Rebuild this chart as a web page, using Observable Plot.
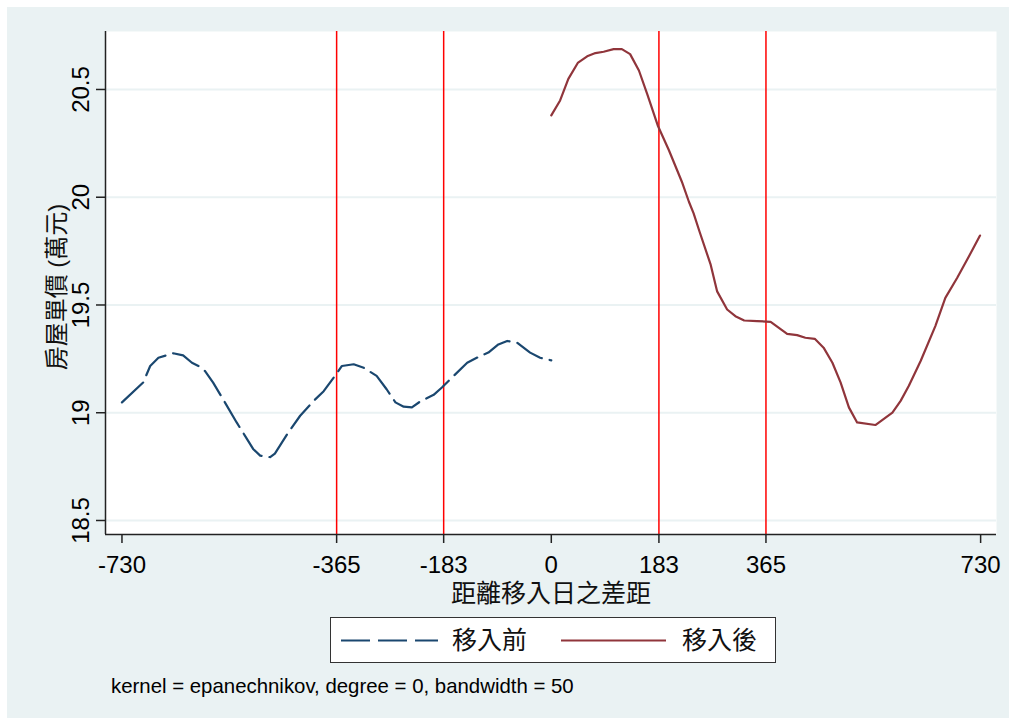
<!DOCTYPE html>
<html>
<head>
<meta charset="utf-8">
<script src="https://cdn.jsdelivr.net/npm/d3@7"></script>
<script src="https://cdn.jsdelivr.net/npm/@observablehq/plot@0.6"></script>
<style>
  body { margin: 0; background: #ffffff; width: 1009px; height: 718px; overflow: hidden; position: relative; }
  #bg { position: absolute; left: 7px; top: 7px; width: 1002px; height: 711px; background: #eaf2f3; }
  #chart { position: absolute; left: 0; top: 0; }
  #legend { position: absolute; left: 330px; top: 617px; width: 446px; height: 46px; box-sizing: border-box;
            border: 1.5px solid #333; background: #fff; }
  #legend .lab { position: absolute; top: 50%; transform: translateY(-50%); font-family: "Liberation Sans", "Noto Sans CJK TC", sans-serif; font-size: 25px; color: #111; line-height: 1; }
  #legend svg { position: absolute; left: 0; top: 0; }
  #note { position: absolute; left: 111px; top: 676px; font-family: "Liberation Sans", Arial, sans-serif; font-size: 20.4px; color: #000; line-height: 1; white-space: nowrap; }
</style>
</head>
<body>
<div id="bg"></div>
<div id="chart"></div>
<div id="legend">
  <svg width="446" height="46">
    <line x1="10" x2="107" y1="22.5" y2="22.5" stroke="#1a476f" stroke-width="2.2" stroke-dasharray="29,8"></line>
    <line x1="230" x2="335" y1="22.5" y2="22.5" stroke="#90353b" stroke-width="2.2"></line>
  </svg>
  <span class="lab" style="left:121px">移入前</span>
  <span class="lab" style="left:351px">移入後</span>
</div>
<div id="note">kernel = epanechnikov, degree = 0, bandwidth = 50</div>
<script>
// ---- data ----
const beforeDays = [-730,-694,-682,-668,-643,-626,-611,-600,-589,-575,-555,-535,-521,-507,-495,-478,-470,-447,-427,-404,-387,-370,-356,-336,-319,-297,-280,-265,-251,-237,-223,-200,-186,-166,-143,-121,-107,-90,-75,-58,-36,-19,0];
const beforePrice = [19.048,19.14,19.217,19.255,19.276,19.266,19.232,19.217,19.194,19.14,19.048,18.955,18.894,18.832,18.801,18.794,18.81,18.909,18.986,19.055,19.10,19.163,19.217,19.225,19.209,19.171,19.109,19.048,19.028,19.025,19.052,19.083,19.117,19.171,19.232,19.263,19.279,19.317,19.333,19.325,19.279,19.255,19.243];
const afterDays = [0,15,29,45,61,75,89,106,120,134,149,163,181,200,222,234,242,252,271,282,299,313,328,350,373,387,401,418,432,448,463,478,492,506,520,551,580,594,608,628,653,670,690,710,729];
const afterPrice = [20.38,20.449,20.549,20.623,20.654,20.669,20.675,20.687,20.687,20.664,20.588,20.48,20.333,20.218,20.072,19.979,19.925,19.841,19.687,19.563,19.479,19.448,19.428,19.425,19.422,19.394,19.366,19.360,19.348,19.343,19.302,19.232,19.14,19.025,18.955,18.943,19.001,19.055,19.125,19.24,19.402,19.533,19.625,19.725,19.822];
const refLines = [-365, -183, 183, 365];
const xTicks = [-730, -365, -183, 0, 183, 365, 730];
const yTicks = [18.5, 19, 19.5, 20, 20.5];
const xTitle = "距離移入日之差距";
const yTitle = "房屋單價 (萬元)";

const before = beforeDays.map((d, i) => ({day: d, price: beforePrice[i]}));
const after = afterDays.map((d, i) => ({day: d, price: afterPrice[i]}));

const xDomain = [-758, 757];
const yDomain = [18.435, 20.769];
const font = "'Liberation Sans', 'Noto Sans CJK TC', Arial, sans-serif";

const chart = Plot.plot({
  width: 1009,
  height: 612,
  marginLeft: 105,
  marginRight: 13,
  marginTop: 31,
  marginBottom: 78,
  style: {background: "transparent", fontFamily: font, fontSize: "24px", color: "#000", overflow: "visible"},
  x: {domain: xDomain, axis: null},
  y: {domain: yDomain, axis: null},
  marks: [
    Plot.frame({fill: "white", stroke: null}),
    Plot.gridY(yTicks, {stroke: "#eaf2f3", strokeOpacity: 1, strokeWidth: 2}),
    Plot.ruleX(refLines, {stroke: "#ff0000", strokeWidth: 1.5}),
    Plot.line(before, {x: "day", y: "price", stroke: "#1a476f", strokeWidth: 2.2, strokeDasharray: "29,8"}),
    Plot.line(after, {x: "day", y: "price", stroke: "#90353b", strokeWidth: 2.2}),
    Plot.ruleX([xDomain[0]], {stroke: "#222", strokeWidth: 1.5}),
    Plot.ruleY([yDomain[0]], {stroke: "#222", strokeWidth: 1.5}),
    Plot.axisX(xTicks, {tickSize: 9, tickPadding: 12, stroke: "#222", strokeWidth: 1.5, label: null, fontSize: 24, tickFormat: d => String(d)}),
    Plot.axisY(yTicks, {tickSize: 9, stroke: "#222", strokeWidth: 1.5, text: null, label: null}),
    Plot.text(yTicks, {y: d => d, text: d => String(d), frameAnchor: "left", rotate: -90, textAnchor: "middle", lineAnchor: "bottom", dx: -17, fontSize: 24, fill: "#000"}),
    Plot.text([xTitle], {frameAnchor: "bottom", dy: 59, lineAnchor: "middle", fontSize: 25, fill: "#111"}),
    Plot.text([yTitle], {frameAnchor: "left", rotate: -90, dx: -48, dy: 4, lineAnchor: "middle", textAnchor: "middle", fontSize: 24, fill: "#111"})
  ]
});
document.getElementById("chart").appendChild(chart);
</script>
</body>
</html>
